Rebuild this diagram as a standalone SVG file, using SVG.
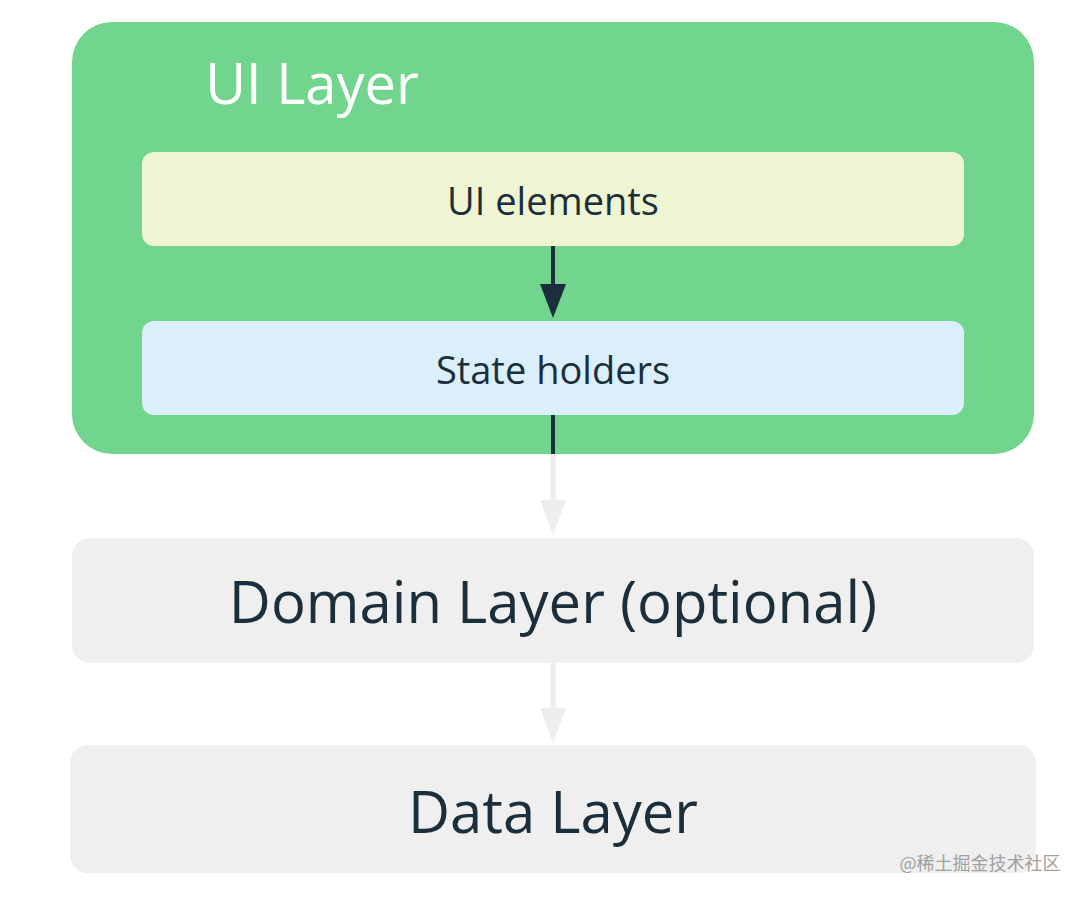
<svg xmlns="http://www.w3.org/2000/svg" width="1086" height="898" viewBox="0 0 1086 898">
<style>
text{font-family:"Open Sans","Noto Sans",sans-serif;fill:#1b2e3c;text-anchor:middle}
.light{stroke:#eeeeee;stroke-width:5;fill:none}
</style>
<defs>
<marker id="ad" markerWidth="10" markerHeight="10" refX="9" refY="5" orient="auto" markerUnits="userSpaceOnUse" viewBox="0 0 10 10"><path d="M0,0 L10,5 L0,10 Z" fill="#1b2e3c"/></marker>
</defs>
<rect width="1086" height="898" fill="#fff"/>
<g id="ui-layer">
<rect x="72" y="22" width="962" height="432" rx="40" fill="#71d58d"/>
<text x="312" y="104" style="font-size:56px;fill:#fff">UI Layer</text>
</g>
<g id="ui-elements">
<rect x="142" y="152" width="822" height="94" rx="12" fill="#eff5d3"/>
<text x="553" y="215" style="font-size:38px">UI elements</text>
</g>
<g id="state-holders">
<rect x="142" y="321" width="822" height="94" rx="12" fill="#dbeffb"/>
<text x="553" y="384" style="font-size:38px">State holders</text>
</g>
<g id="domain-layer">
<rect x="72" y="538" width="962" height="125" rx="18" fill="#efefef"/>
<text x="553" y="623" style="font-size:58px">Domain Layer (optional)</text>
</g>
<g id="data-layer">
<rect x="70" y="745" width="966" height="128" rx="18" fill="#efefef"/>
<text x="553" y="833" style="font-size:58px">Data Layer</text>
</g>
<g id="connectors">
<line x1="553" y1="246" x2="553" y2="286" stroke="#1b2e3c" stroke-width="4"/>
<path d="M540,284 L566,284 L553,318 Z" fill="#1b2e3c"/>
<line x1="553" y1="415" x2="553" y2="454" stroke="#1b2e3c" stroke-width="4"/>
<line class="light" x1="553" y1="454" x2="553" y2="502"/>
<path d="M540,500 L566,500 L553,535 Z" fill="#eeeeee"/>
<line class="light" x1="553" y1="663" x2="553" y2="710"/>
<path d="M540,708 L566,708 L553,743 Z" fill="#eeeeee"/>
</g>
<text x="980" y="870" style="font-size:18px;fill:#a0a0a0;font-family:'Noto Sans CJK SC',sans-serif">@稀土掘金技术社区</text>
</svg>
